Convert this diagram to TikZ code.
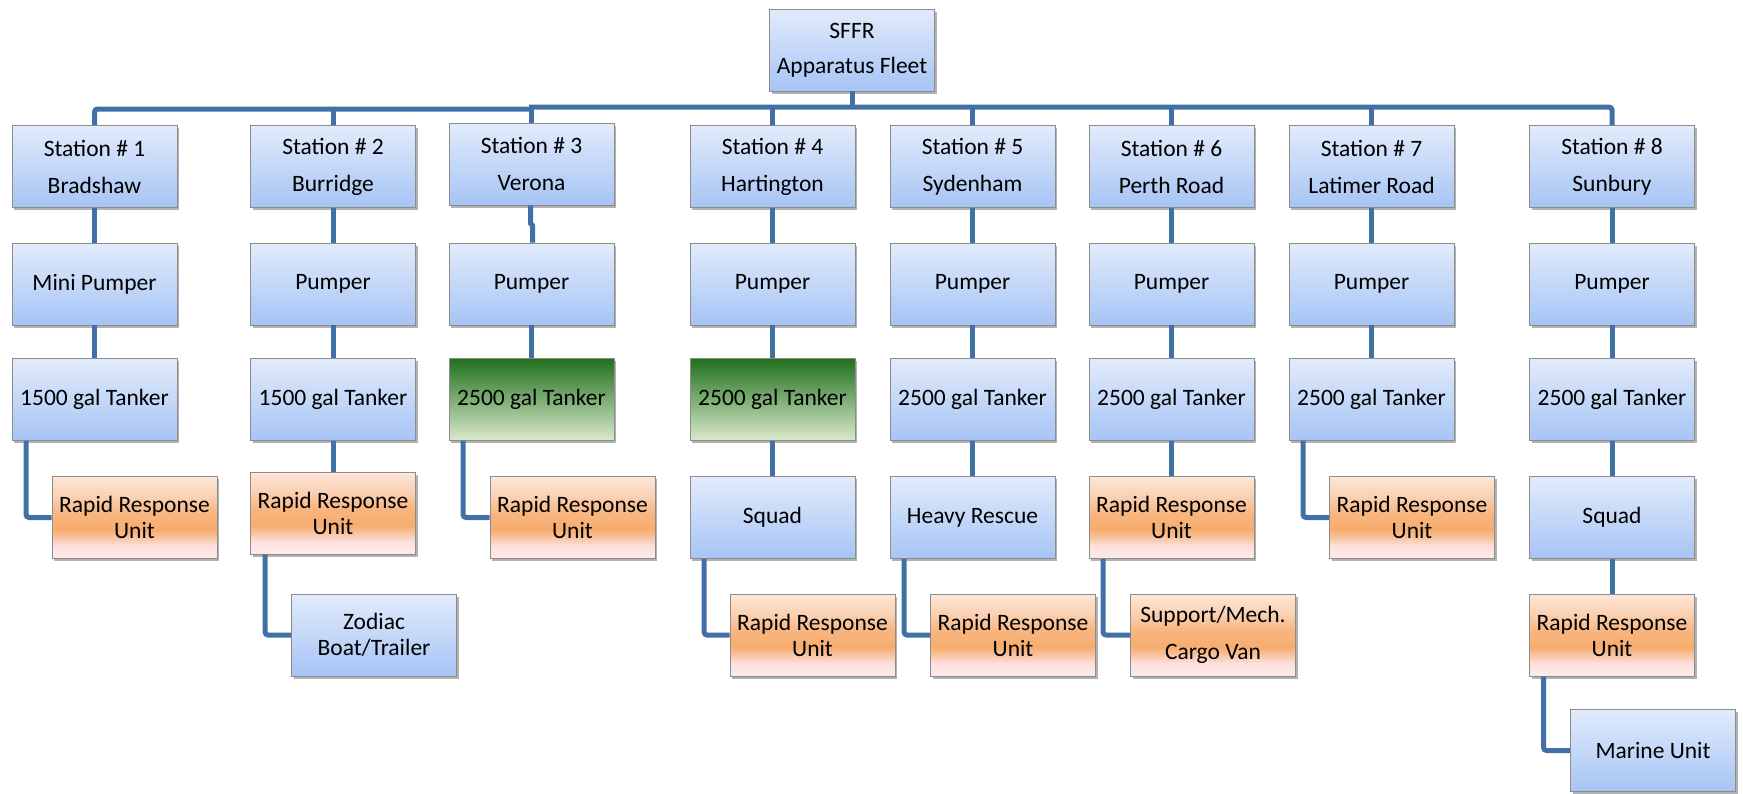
\documentclass[tikz,border=0pt]{standalone}
\usepackage{fontspec}
\setmainfont{Carlito}
\usetikzlibrary{shadows}
\definecolor{linec}{HTML}{4170A6}
\definecolor{bT}{HTML}{E2EBFB}
\definecolor{bB}{HTML}{A6C4F5}
\definecolor{gT}{HTML}{21701D}
\definecolor{gM}{HTML}{86B46C}
\definecolor{gB}{HTML}{DAEACD}
\definecolor{oTop}{HTML}{FDE6D8}
\definecolor{oA}{HTML}{FAD0B2}
\definecolor{oB}{HTML}{F8B580}
\definecolor{oC}{HTML}{F7AC6D}
\definecolor{oD}{HTML}{F9C6A4}
\definecolor{oE}{HTML}{FDE1E0}
\definecolor{oBot}{HTML}{FDEBE8}
\pgfdeclareverticalshading{rrushade}{100bp}{color(0bp)=(oBot); color(25bp)=(oBot); color(32.5bp)=(oE); color(37.5bp)=(oD); color(42.5bp)=(oC); color(52.5bp)=(oB); color(62.5bp)=(oA); color(75bp)=(oTop); color(100bp)=(oTop)}
\begin{document}
\begin{tikzpicture}[x=1pt,y=-1pt,
  box/.style={rectangle, minimum width=165pt, minimum height=82pt, inner sep=0pt,
    draw=black!45, line width=0.9pt, align=center,
    font=\fontsize{23.5}{37}\selectfont,
    drop shadow={shadow xshift=2pt, shadow yshift=-2.5pt, opacity=0.3, fill=black}},
  tight/.style={font=\fontsize{23.5}{26}\selectfont},
  bluebox/.style={box, top color=bT, bottom color=bB},
  greenbox/.style={box, top color=gT, middle color=gM, bottom color=gB},
  orangebox/.style={box, shade, shading=rrushade},
  conn/.style={draw=linec, line width=5pt, rounded corners=3pt}]
\useasboundingbox (0,0) rectangle (1743,793);

% top
\node[bluebox, font=\fontsize{23.5}{35}\selectfont] (sffr) at (852,50) {SFFR\\Apparatus Fleet};

% stations
\node[bluebox] (s1) at (94.5,166.5) {Station \# 1\\Bradshaw};
\node[bluebox] (s2) at (333,166.5) {Station \# 2\\Burridge};
\node[bluebox] (s3) at (531.5,164) {Station \# 3\\Verona};
\node[bluebox] (s4) at (772.5,166.5) {Station \# 4\\Hartington};
\node[bluebox] (s5) at (972.5,166.5) {Station \# 5\\Sydenham};
\node[bluebox] (s6) at (1171.5,166.5) {Station \# 6\\Perth Road};
\node[bluebox] (s7) at (1371.5,166.5) {Station \# 7\\Latimer Road};
\node[bluebox] (s8) at (1612,166.5) {Station \# 8\\Sunbury};

% pumpers
\node[bluebox] (p1) at (94.5,284) {Mini Pumper};
\node[bluebox] (p2) at (333,284) {Pumper};
\node[bluebox] (p3) at (531.5,284) {Pumper};
\node[bluebox] (p4) at (772.5,284) {Pumper};
\node[bluebox] (p5) at (972.5,284) {Pumper};
\node[bluebox] (p6) at (1171.5,284) {Pumper};
\node[bluebox] (p7) at (1371.5,284) {Pumper};
\node[bluebox] (p8) at (1612,284) {Pumper};

% tankers
\node[bluebox] (t1) at (94.5,399.5) {1500 gal Tanker};
\node[bluebox] (t2) at (333,399.5) {1500 gal Tanker};
\node[greenbox] (t3) at (531.5,399.5) {2500 gal Tanker};
\node[greenbox] (t4) at (772.5,399.5) {2500 gal Tanker};
\node[bluebox] (t5) at (972.5,399.5) {2500 gal Tanker};
\node[bluebox] (t6) at (1171.5,399.5) {2500 gal Tanker};
\node[bluebox] (t7) at (1371.5,399.5) {2500 gal Tanker};
\node[bluebox] (t8) at (1612,399.5) {2500 gal Tanker};

% row 4
\node[orangebox, tight] (r1) at (134.5,517.5) {Rapid Response\\Unit};
\node[orangebox, tight] (r2) at (333,513) {Rapid Response\\Unit};
\node[orangebox, tight] (r3) at (572.5,517.5) {Rapid Response\\Unit};
\node[bluebox] (q4) at (772.5,517.5) {Squad};
\node[bluebox] (h5) at (972.5,517.5) {Heavy Rescue};
\node[orangebox, tight] (r6) at (1171.5,517.5) {Rapid Response\\Unit};
\node[orangebox, tight] (r7) at (1412,517.5) {Rapid Response\\Unit};
\node[bluebox] (q8) at (1612,517.5) {Squad};

% row 5
\node[bluebox, tight] (z2) at (374,635) {Zodiac\\Boat/Trailer};
\node[orangebox, tight] (r4) at (812.5,635) {Rapid Response\\Unit};
\node[orangebox, tight] (r5) at (1013,635) {Rapid Response\\Unit};
\node[orangebox] (m6) at (1213,635) {Support/Mech.\\Cargo Van};
\node[orangebox, tight] (r8) at (1612,635) {Rapid Response\\Unit};

% row 6
\node[bluebox] (mu8) at (1653,750.5) {Marine Unit};

% bus
\coordinate (bl) at (531.5,109);
\coordinate (br) at (529,107);
\draw[conn] (sffr.south) -- (sffr.south |- br);
\draw[conn] (s1.north) |- (bl);
\draw[conn] (s3.north) -- (s3.north |- br);
\draw[conn] (br) -| (s8.north);
\draw[conn] (s2.north) -- (s2.north |- bl);
\draw[conn] (s4.north) -- (s4.north |- br);
\draw[conn] (s5.north) -- (s5.north |- br);
\draw[conn] (s6.north) -- (s6.north |- br);
\draw[conn] (s7.north) -- (s7.north |- br);

% station to pumper
\draw[conn] (s1.south) -- (p1.north);
\draw[conn] (s2.south) -- (p2.north);
\draw[conn, rounded corners=0pt] ([xshift=-1pt]s3.south) -- ([xshift=-1pt,yshift=-18pt]s3.south) -- ([xshift=1pt,yshift=-20pt]s3.south) -- ([xshift=1pt]p3.north);
\draw[conn] (s4.south) -- (p4.north);
\draw[conn] (s5.south) -- (p5.north);
\draw[conn] (s6.south) -- (p6.north);
\draw[conn] (s7.south) -- (p7.north);
\draw[conn] (s8.south) -- (p8.north);

% pumper to tanker
\draw[conn] (p1.south) -- (t1.north);
\draw[conn] (p2.south) -- (t2.north);
\draw[conn] (p3.south) -- (t3.north);
\draw[conn] (p4.south) -- (t4.north);
\draw[conn] (p5.south) -- (t5.north);
\draw[conn] (p6.south) -- (t6.north);
\draw[conn] (p7.south) -- (t7.north);
\draw[conn] (p8.south) -- (t8.north);

% lower links
\draw[conn] ([xshift=14.5pt]t1.south west) |- (r1.west);
\draw[conn] (t2.south) -- (r2.north);
\draw[conn] ([xshift=15pt]r2.south west) |- (z2.west);
\draw[conn] ([xshift=14.5pt]t3.south west) |- (r3.west);
\draw[conn] (t4.south) -- (q4.north);
\draw[conn] ([xshift=14.5pt]q4.south west) |- (r4.west);
\draw[conn] (t5.south) -- (h5.north);
\draw[conn] ([xshift=14.5pt]h5.south west) |- (r5.west);
\draw[conn] (t6.south) -- (r6.north);
\draw[conn] ([xshift=14.5pt]r6.south west) |- (m6.west);
\draw[conn] ([xshift=14.5pt]t7.south west) |- (r7.west);
\draw[conn] (t8.south) -- (q8.north);
\draw[conn] (q8.south) -- (r8.north);
\draw[conn] ([xshift=14.5pt]r8.south west) |- (mu8.west);
\end{tikzpicture}
\end{document}
